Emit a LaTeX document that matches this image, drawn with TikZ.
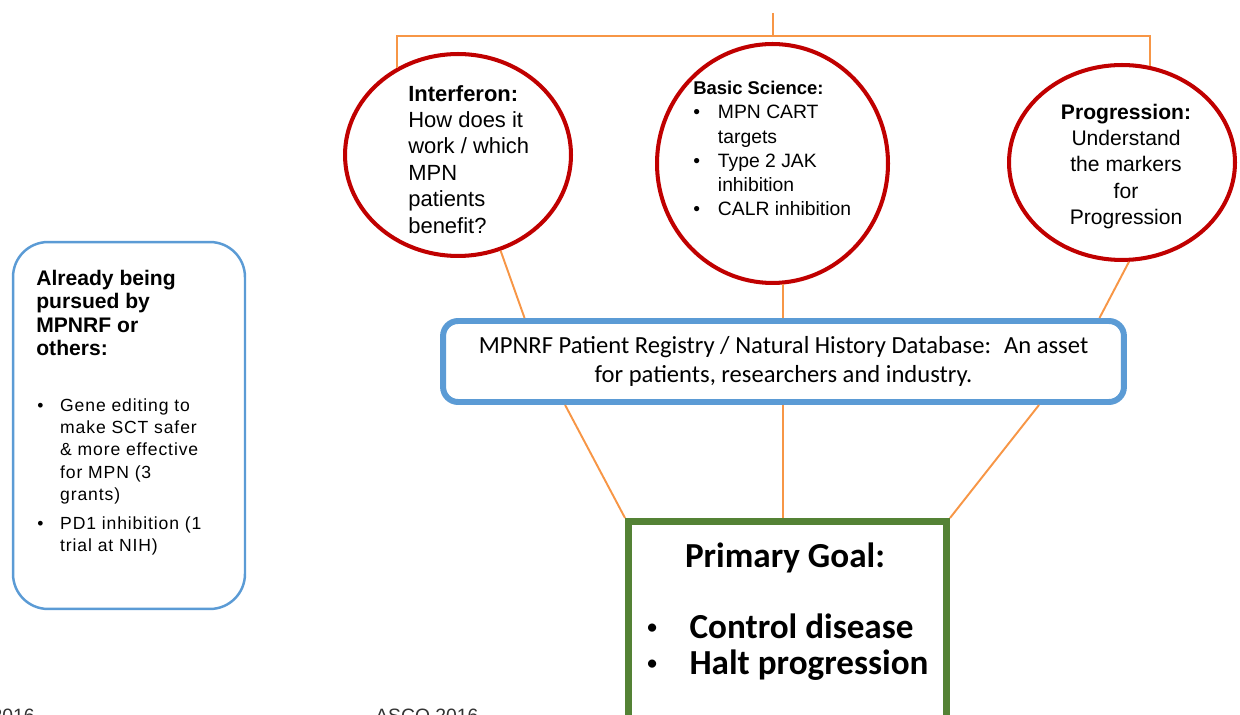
\documentclass[tikz,border=0pt]{standalone}
\usepackage{fontspec}
\setmainfont{Liberation Sans}
\newfontfamily\calibri{Carlito}
\usepackage{tikz}
\usetikzlibrary{calc}
\usetikzlibrary{positioning}
\usetikzlibrary{shapes.geometric}

\definecolor{ringred}{HTML}{C00000}
\definecolor{boxblue}{HTML}{5B9BD5}
\definecolor{goalgreen}{HTML}{548235}
\definecolor{linkorange}{HTML}{F79646}

\newcommand{\listdot}[1][14pt]{\makebox[#1][l]{\textbullet}}
\newcommand{\goaldot}{\makebox[24pt][l]{\raisebox{0.15em}{\fontsize{11}{11}\selectfont\textbullet}}}

\begin{document}
\begin{tikzpicture}[x=0.02cm, y=-0.02cm,
    bubble/.style={draw=ringred, line width=2.3pt, ellipse, inner sep=0pt},
    regbox/.style={draw=boxblue, line width=3.4pt, rounded corners=0.3cm},
    sidebox/.style={draw=boxblue, line width=1.4pt, rounded corners=0.7cm},
    goalbox/.style={draw=goalgreen, line width=4pt},
    txt/.style={inner sep=0pt, align=left},
    link/.style={draw=linkorange, line width=1.1pt}]

    \useasboundingbox (0,0) rectangle (1240,715);

    % research themes
    \node[bubble, minimum width=4.52cm, minimum height=4.04cm] (ifn) at (458,155) {};
    \node[bubble, minimum width=4.62cm, minimum height=4.78cm] (basic) at (772.5,163.5) {};
    \node[bubble, minimum width=4.52cm, minimum height=3.9cm] (prog) at (1122,162.5) {};

    \node[txt, anchor=north west, font=\fontsize{12.5}{15}\selectfont] (ifntxt) at (408,85)
        {\textbf{Interferon:}\\How does it\\work / which\\MPN\\patients\\benefit?};
    \node[txt, anchor=north west, font=\fontsize{11}{13.8}\selectfont] (basictxt) at (693,81)
        {{\fontsize{10.5}{13.8}\selectfont\textbf{Basic Science:}}\\
         \listdot MPN CART\\\hspace*{14pt}targets\\
         \listdot Type 2 JAK\\\hspace*{14pt}inhibition\\
         \listdot CALR inhibition};
    \node[txt, anchor=north, align=center, font=\fontsize{12}{14.9}\selectfont] (progtxt) at (1126,104)
        {\textbf{Progression:}\\Understand\\the markers\\for\\Progression};

    \node[regbox, minimum width=13.62cm, minimum height=1.62cm, align=center,
          font=\calibri\fontsize{14}{17}\selectfont] (registry) at (783.5,361.5)
        {MPNRF Patient Registry / Natural History Database: \ An asset\\for patients, researchers and industry.};

    \node[sidebox, minimum width=4.64cm, minimum height=7.34cm] (pursued) at (129,425.5) {};
    \node[txt, anchor=north west, font=\bfseries\fontsize{12}{13.3}\selectfont] (pursuedhead) at (36,270)
        {Already being\\pursued by\\MPNRF or\\others:};
    \node[txt, anchor=north west, font=\fontsize{10}{12.7}\selectfont\addfontfeature{LetterSpace=5}] (pursuedlist) at (37,398)
        {\listdot[13pt]Gene editing to\\\hspace*{13pt}make SCT safer\\\hspace*{13pt}\& more effective\\
         \hspace*{13pt}for MPN (3\\\hspace*{13pt}grants)\\[4pt]
         \listdot[13pt]PD1 inhibition (1\\\hspace*{13pt}trial at NIH)};

    \node[goalbox, minimum width=6.36cm, minimum height=4.2cm] (goal) at (787.5,626.5) {};
    \node[font=\calibri\bfseries\fontsize{20}{20.4}\selectfont, inner sep=0pt] (goaltitle) at (785,558) {Primary Goal:};
    \node[txt, anchor=west, font=\calibri\bfseries\fontsize{20}{20.4}\selectfont] (goalitems) at (647,647)
        {\goaldot Control disease\\\goaldot Halt progression};

    \node[txt, anchor=north east, font=\fontsize{11}{13}\selectfont, text=black!80] (yearleft) at (35,709) {2016};
    \node[txt, anchor=north west, font=\fontsize{11}{13}\selectfont, text=black!80] (yearmid) at (375,709) {ASCO 2016};

    % orange connectors
    \coordinate (top) at (773,13);
    \coordinate (bar) at (773,36);
    \draw[link] (top) -- (bar);
    \draw[link] (ifn.125) |- (bar) -| (prog.74);

    \draw[link] (ifn.-66) -- ($(registry.north west)!0.123!(registry.north east)$);
    \draw[link] (basic.-85) -- (basic.-85 |- registry.north);
    \draw[link] (prog.-86) -- ($(registry.north west)!0.96!(registry.north east)$);

    \draw[link] ($(registry.south west)!0.182!(registry.south east)$) -- (goal.north west);
    \draw[link] (basic.-85 |- registry.south) -- (basic.-85 |- goal.north);
    \draw[link] ($(registry.south west)!0.872!(registry.south east)$) -- (goal.north east);

\end{tikzpicture}
\end{document}
